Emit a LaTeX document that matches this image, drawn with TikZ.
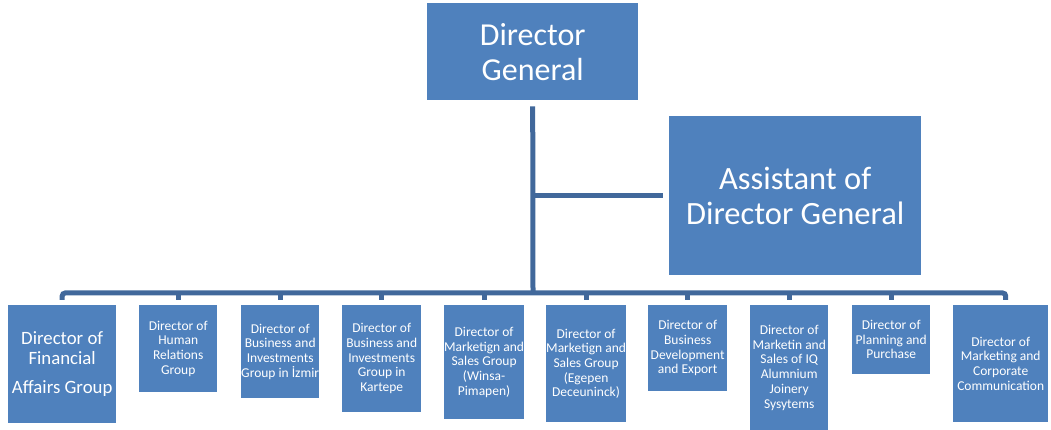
\documentclass[tikz,border=0pt]{standalone}
\usepackage{fontspec}
\setmainfont{Carlito}
\definecolor{boxblue}{HTML}{4F81BD}
\definecolor{linkblue}{HTML}{41689B}
\begin{document}
\begin{tikzpicture}[x=1pt,y=1pt,
  box/.style={anchor=north west, fill=boxblue, text=white, inner sep=0pt, align=center},
  big/.style={font=\fontsize{32}{35}\selectfont},
  big2/.style={font=\fontsize{32.5}{35}\selectfont},
  mid/.style={font=\fontsize{18.8}{20}\selectfont},
  small/.style={font=\fontsize{13.5}{14.7}\selectfont},
  conn/.style={draw=linkblue, line width=5pt}]
\useasboundingbox (0,0) rectangle (1051,430);
\node[box,big,minimum width=211pt,minimum height=97pt] (dg) at (427,427) {Director\\General};
\node[box,big2,minimum width=252pt,minimum height=159pt] (adg) at (669,314) {Assistant of\\Director General};
\node[box,mid,minimum width=108pt,minimum height=118pt] (b1) at (8,125) {Director of\\Financial\\[9pt]Affairs Group};
\node[box,small,minimum width=78pt,minimum height=87pt] (b2) at (139,125) {Director of\\Human\\Relations\\Group};
\node[box,small,minimum width=78pt,minimum height=93pt] (b3) at (241,125) {Director of\\Business and\\Investments\\Group in İzmir};
\node[box,small,minimum width=79pt,minimum height=107pt] (b4) at (342,125) {Director of\\Business and\\Investments\\Group in\\Kartepe};
\node[box,small,minimum width=79pt,minimum height=114pt] (b5) at (444,125) {Director of\\Marketign and\\Sales Group\\(Winsa-\\Pimapen)};
\node[box,small,minimum width=79pt,minimum height=117pt] (b6) at (546,125) {Director of\\Marketign and\\Sales Group\\(Egepen\\Deceuninck)};
\node[box,small,minimum width=79pt,minimum height=86pt] (b7) at (648,125) {Director of\\Business\\Development\\and Export};
\node[box,small,minimum width=78pt,minimum height=125pt] (b8) at (750,125) {Director of\\Marketin and\\Sales of IQ\\Alumnium\\Joinery\\Sysytems};
\node[box,small,minimum width=78pt,minimum height=69pt] (b9) at (852,125) {Director of\\Planning and\\Purchase};
\node[box,small,minimum width=95pt,minimum height=117pt] (b10) at (953,125) {Director of\\Marketing and\\Corporate\\Communication};
\coordinate (bus) at (533,137);
\draw[conn] ([yshift=-6pt]dg.south) -- (bus);
\draw[conn] (adg.west -| dg.south) -- ([xshift=-6pt]adg.west);
\draw[conn,rounded corners=3pt] ([yshift=5pt]b1.north) |- (bus) -| ([xshift=5pt,yshift=5pt]b10.north);
\foreach \i in {2,...,9} {\draw[conn] (b\i.north |- bus) -- ([yshift=5pt]b\i.north);}
\end{tikzpicture}
\end{document}
